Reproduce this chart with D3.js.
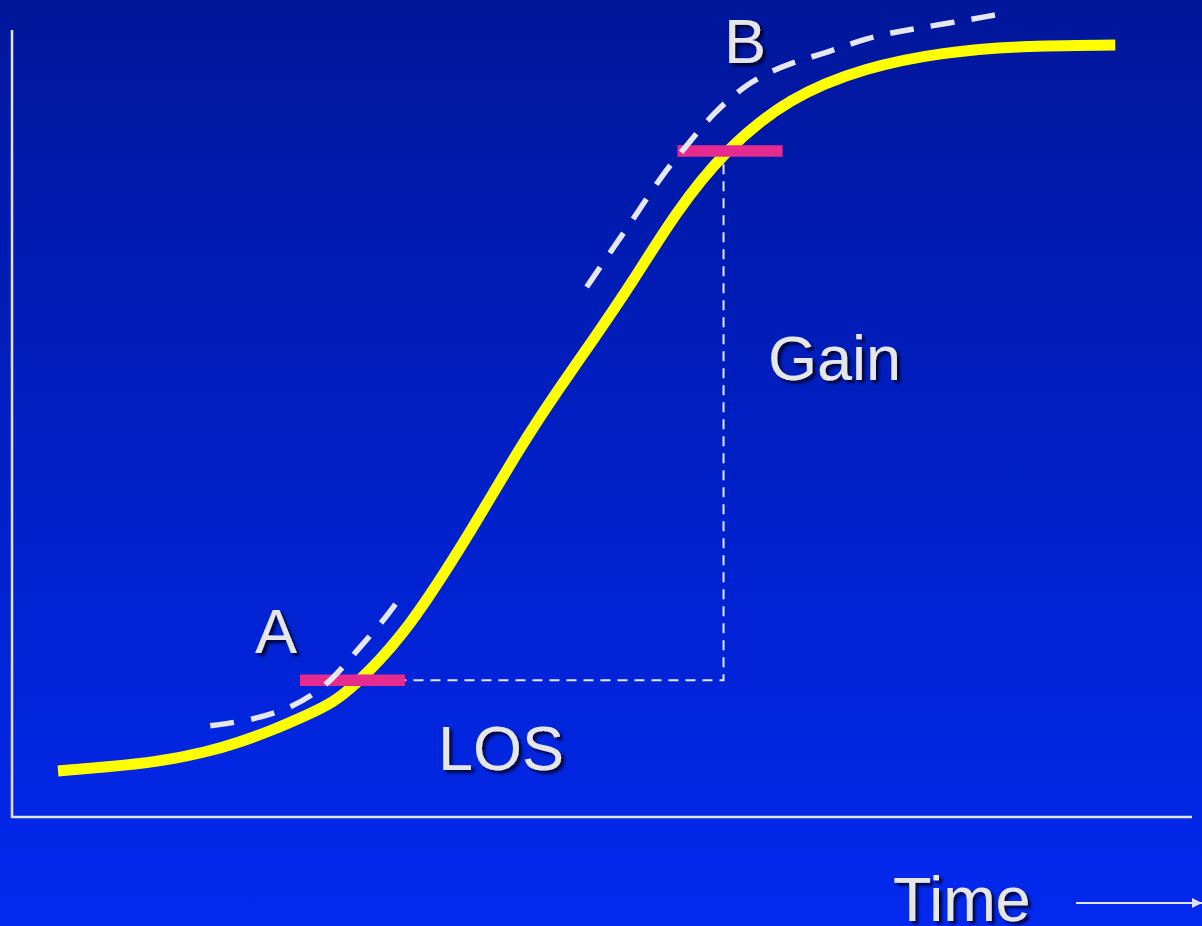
<!DOCTYPE html>
<html>
<head>
<meta charset="utf-8">
<script src="https://cdn.jsdelivr.net/npm/d3@7"></script>
<style>
  html, body { margin: 0; padding: 0; overflow: hidden; background: #0020c8; }
  svg { display: block; }
</style>
</head>
<body>
<svg id="chart" width="1202" height="926"></svg>
<script>
// ---- Data (time 0-100, value 0-100) ----
const baseTime   = [3.9, 8.05, 12.29, 16.53, 19.32, 22.12, 25.0, 27.2, 29.24, 31.19, 33.14, 35.17, 38.81, 43.05, 46.44, 49.24, 52.54, 56.2, 60.4, 65.9, 72.4, 78.9, 85.3, 93.5];
const baseValue  = [5.75, 6.25, 6.875, 8.125, 9.375, 10.875, 12.75, 14.25, 16.75, 19.625, 23.0, 27.125, 35.5, 46.25, 53.75, 59.625, 66.75, 75.5, 83.375, 90.0, 93.75, 95.6, 96.4, 96.5];

// improved curve, drawn in two pieces (null = gap)
const altTime    = [16.8, 20.3, 23.7, 26.7, 28.9, 31.4, 32.5, null, 48.7, 51.0, 53.0, 55.2, 57.1, 59.4, 62.6, 65.9, 69.2, 72.4, 75.9, 79.5, 83.3];
const altValue   = [11.4, 12.1, 13.6, 16.4, 20.25, 24.4, 26.6, null, 66.25, 71.25, 75.5, 80.5, 83.75, 88.0, 92.1, 94.25, 95.6, 97.4, 98.4, 99.25, 100.25];

// markers A and B
const markerLabels = ["A", "B"];
const markerStart  = [24.4, 56.4];
const markerEnd    = [33.3, 65.3];
const markerValue  = [17.1, 83.25];

// LOS / Gain guide
const guideTime  = [29.7, 60.3, 60.3];
const guideValue = [17.1, 17.1, 83.25];

const annotationLabels = ["Gain", "LOS"];
const axisLabel = "Time";

// ---- Layout ----
const W = 1202, H = 926;
const x = d3.scaleLinear().domain([0, 100]).range([12, 1192]);
const y = d3.scaleLinear().domain([0, 100]).range([817, 17]);

const svg = d3.select("#chart");
const defs = svg.append("defs");

const grad = defs.append("linearGradient").attr("id", "bg")
  .attr("x1", 0).attr("y1", 0).attr("x2", 0).attr("y2", 1);
grad.append("stop").attr("offset", "0%").attr("stop-color", "#00169a");
grad.append("stop").attr("offset", "50%").attr("stop-color", "#0020c6");
grad.append("stop").attr("offset", "100%").attr("stop-color", "#0329ef");

const shadow = defs.append("filter").attr("id", "shadow")
  .attr("x", "-20%").attr("y", "-20%").attr("width", "150%").attr("height", "150%");
shadow.append("feDropShadow").attr("dx", 3).attr("dy", 3)
  .attr("stdDeviation", 1.6).attr("flood-color", "#000022").attr("flood-opacity", 0.85);

const arrowM = defs.append("marker").attr("id", "arrow")
  .attr("viewBox", "0 0 10 10").attr("refX", 10).attr("refY", 5)
  .attr("markerWidth", 5).attr("markerHeight", 5)
  .attr("markerUnits", "strokeWidth").attr("orient", "auto");
arrowM.append("path").attr("d", "M0,0 L10,5 L0,10 Z").attr("fill", "#e2e2ea");

svg.append("rect").attr("width", W).attr("height", H).attr("fill", "url(#bg)");

// ---- Axes ----
const axisColor = "#e2e2ea";
svg.append("line")
  .attr("x1", x(0)).attr("x2", x(0)).attr("y1", 30).attr("y2", y(0) + 1)
  .attr("stroke", axisColor).attr("stroke-width", 2.5);
svg.append("line")
  .attr("x1", x(0) - 1).attr("x2", x(100)).attr("y1", y(0)).attr("y2", y(0))
  .attr("stroke", axisColor).attr("stroke-width", 2.5);

// ---- Guide lines ----
const guidePts = guideTime.map((t, i) => [t, guideValue[i]]);
svg.append("path")
  .attr("d", d3.line().x(d => x(d[0])).y(d => y(d[1]))(guidePts))
  .attr("fill", "none").attr("stroke", "#e6e6ee").attr("stroke-width", 2)
  .attr("stroke-dasharray", "10,7");

// ---- Base (yellow) curve ----
const basePts = baseTime.map((t, i) => [t, baseValue[i]]);
const lineGen = d3.line()
  .x(d => x(d[0])).y(d => y(d[1]))
  .curve(d3.curveBasis);

svg.append("path")
  .attr("d", lineGen(basePts))
  .attr("fill", "none").attr("stroke", "#ffff00").attr("stroke-width", 11);

// ---- Marker bars (pink) ----
svg.selectAll("line.marker").data(markerLabels).enter().append("line")
  .attr("class", "marker")
  .attr("x1", (d, i) => x(markerStart[i])).attr("x2", (d, i) => x(markerEnd[i]))
  .attr("y1", (d, i) => y(markerValue[i])).attr("y2", (d, i) => y(markerValue[i]))
  .attr("stroke", "#e52b8f").attr("stroke-width", 11.5);

// ---- Alternative (dashed white) curve, split at gaps ----
const segments = [[]];
altTime.forEach((t, i) => {
  if (t == null || altValue[i] == null) segments.push([]);
  else segments[segments.length - 1].push([t, altValue[i]]);
});
const DASH = 24, GAP = 16;
segments.filter(s => s.length > 1).forEach(seg => {
  const p = svg.append("path")
    .attr("d", lineGen(seg))
    .attr("fill", "none").attr("stroke", "#e6e6ee").attr("stroke-width", 5.5);
  // fit the pattern so that each piece starts and ends with a dash
  const L = p.node().getTotalLength();
  const n = Math.max(1, Math.round((L - DASH) / (DASH + GAP)));
  const gap = (L - DASH) / n - DASH;
  p.attr("stroke-dasharray", DASH + "," + gap.toFixed(2));
});

// ---- Text ----
const font = "'Liberation Sans', Arial, sans-serif";
function label(txt, px, py, anchor) {
  svg.append("text").text(txt)
    .attr("x", px).attr("y", py)
    .attr("text-anchor", anchor || "start")
    .attr("font-family", font).attr("font-size", 63)
    .attr("fill", "#e6e6e6").attr("filter", "url(#shadow)");
}
label(markerLabels[0], 276, 653, "middle");
label(markerLabels[1], 745, 63, "middle");
label(annotationLabels[0], 768, 380);
label(annotationLabels[1], 438, 770);
label(axisLabel, 893, 921);

// time arrow
svg.append("line")
  .attr("x1", 1076).attr("x2", 1202).attr("y1", 903).attr("y2", 903)
  .attr("stroke", "#e2e2ea").attr("stroke-width", 2)
  .attr("marker-end", "url(#arrow)");
</script>
</body>
</html>
